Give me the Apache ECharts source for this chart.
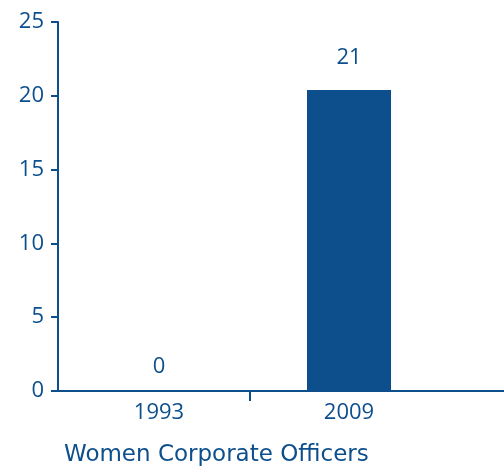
<!DOCTYPE html>
<html>
<head>
<meta charset="utf-8">
<script src="https://cdn.jsdelivr.net/npm/echarts@6/dist/echarts.min.js"></script>
<style>
  html, body { margin: 0; padding: 0; background: #fff; }
  #chart { width: 504px; height: 469px; }
</style>
</head>
<body>
<div id="chart"></div>
<script>
const years = ["1993", "2009"];
const officers = [0, 20.4];
const valueLabels = ["0", "21"];
const yTicks = [0, 5, 10, 15, 20, 25];

const BLUE = "#0d4f8c";
const NUM_FONT = "Open Sans";
const TITLE_FONT = "DejaVu Sans";

const chart = echarts.init(document.getElementById("chart"), null, { renderer: "canvas" });

chart.setOption({
  backgroundColor: "#fff",
  animation: false,
  textStyle: { fontFamily: NUM_FONT },
  title: {
    text: "Women Corporate Officers",
    left: 59,
    top: 439,
    textStyle: { color: BLUE, fontSize: 23, fontWeight: "normal", fontFamily: TITLE_FONT },
  },
  grid: { left: 64, right: 60, top: 22, bottom: 78 },
  xAxis: {
    type: "category",
    data: years,
    axisLine: { lineStyle: { color: BLUE, width: 2 } },
    axisTick: { show: false },
    axisLabel: { color: BLUE, fontSize: 22, margin: 11 },
  },
  yAxis: {
    type: "value",
    min: yTicks[0],
    max: yTicks[yTicks.length - 1],
    interval: 5,
    offset: 6,
    axisLine: { show: true, lineStyle: { color: BLUE, width: 2 } },
    axisTick: { show: true, length: 7, lineStyle: { color: BLUE, width: 2 } },
    axisLabel: { color: BLUE, fontSize: 22, margin: 14 },
    splitLine: { show: false },
  },
  series: [{
    type: "bar",
    data: officers.map((v) => ({
      value: v,
      label: { distance: v === 0 ? 13 : 21 },
    })),
    barWidth: 84,
    itemStyle: { color: BLUE },
    label: {
      show: true,
      position: "top",
      color: BLUE,
      fontSize: 22,
      formatter: (p) => valueLabels[p.dataIndex],
    },
  }],
});

// single tick between the two categories, and the axis line running from the y axis to the edge
const c0 = chart.convertToPixel({ xAxisIndex: 0 }, years[0]);
const c1 = chart.convertToPixel({ xAxisIndex: 0 }, years[1]);
const y0 = chart.convertToPixel({ yAxisIndex: 0 }, 0);
const mid = (c0 + c1) / 2 - 4;
const start = c0 - (c1 - c0) / 2;
chart.setOption({
  graphic: [
    { type: "line", shape: { x1: mid, y1: y0, x2: mid, y2: y0 + 10 }, style: { stroke: BLUE, lineWidth: 2 } },
    { type: "line", shape: { x1: start - 6, y1: y0, x2: 504, y2: y0 }, style: { stroke: BLUE, lineWidth: 2 } },
  ],
});
</script>
</body>
</html>
